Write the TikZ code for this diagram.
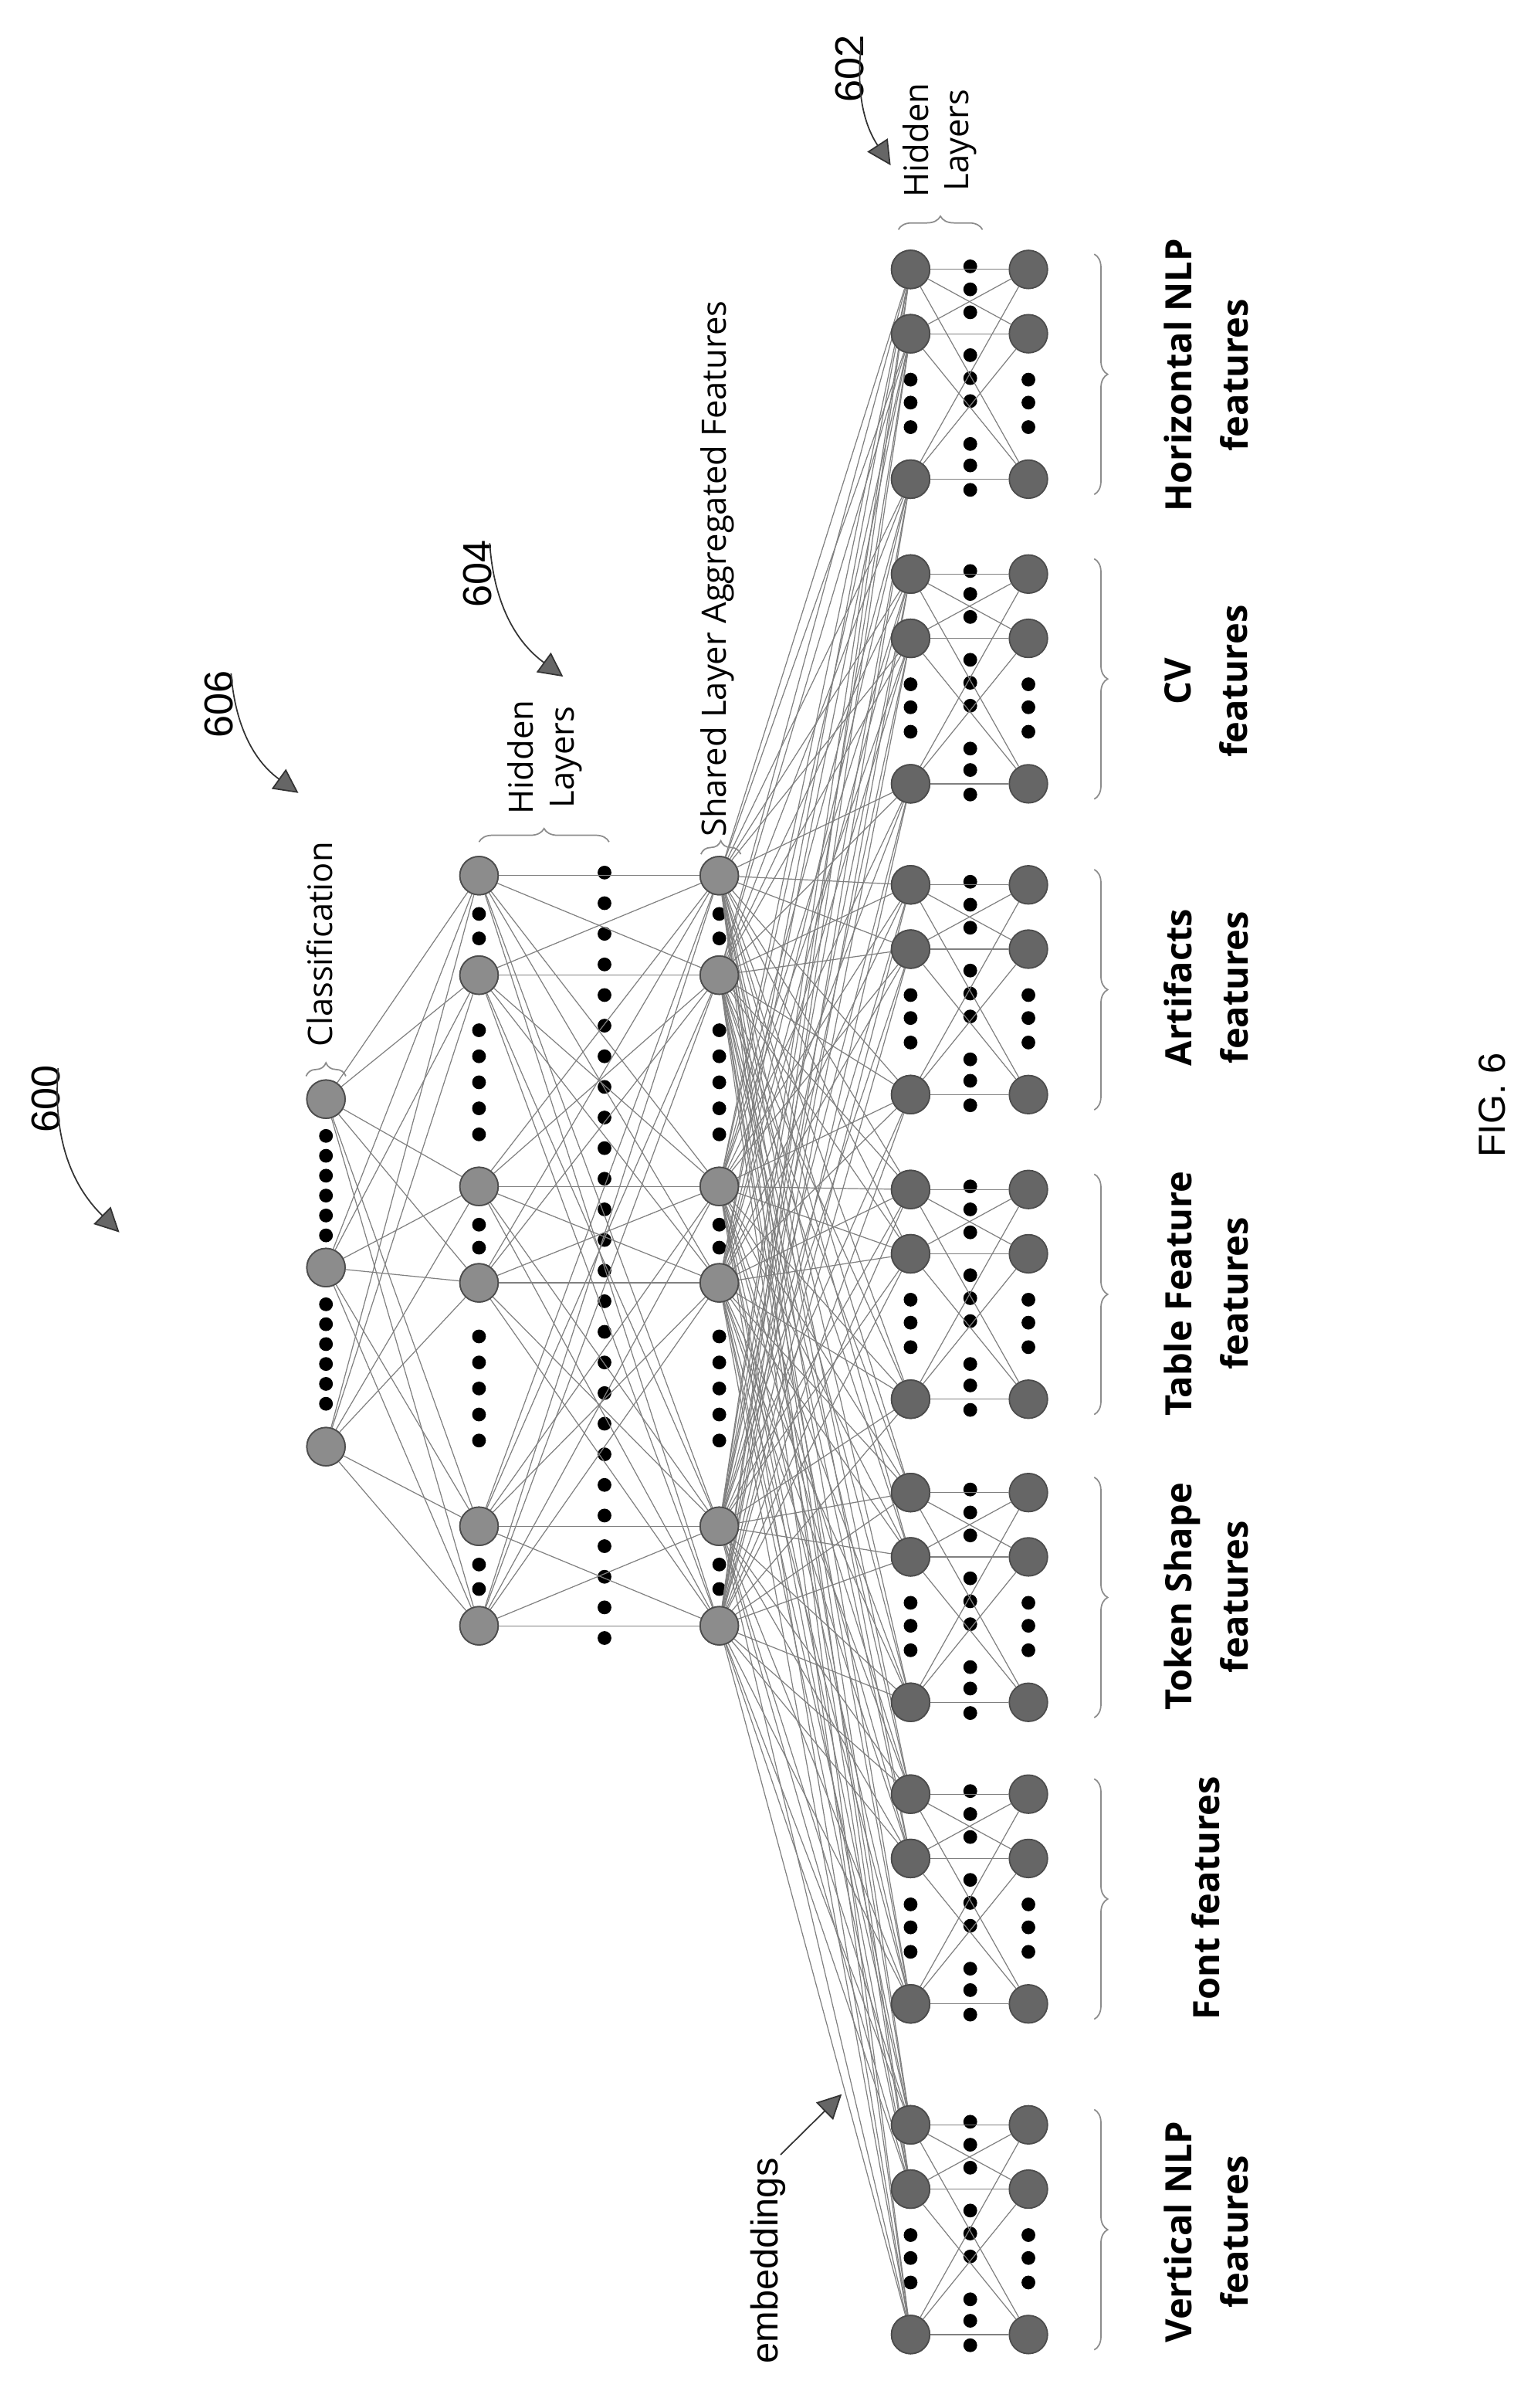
\documentclass[tikz,border=0pt]{standalone}
\usepackage{fontspec}
\setmainfont{Open Sans}
\newfontfamily\numfont{Liberation Sans}
\usetikzlibrary{arrows.meta,decorations.pathreplacing,calc}

\tikzset{
  neuron/.style={circle,draw=black!70,fill=black!45,line width=0.5pt,minimum size=25*0.02cm,inner sep=0pt},
  inneuron/.style={neuron,fill=black!60},
  dotnode/.style={circle,fill=black,minimum size=9*0.02cm,inner sep=0pt},
  wire/.style={black!50,line width=0.35pt},
  brc/.style={black!45,line width=0.5pt,decorate,decoration={brace,amplitude=5pt}},
  reflab/.style={font=\numfont\fontsize{15}{15}\selectfont,rotate=90},
  refarrow/.style={black!80,line width=0.5pt,-{Triangle[length=9pt,width=9pt,fill=black!60]}},
  lab/.style={font=\fontsize{13.5}{21}\selectfont\bfseries,rotate=90,align=center},
  toplab/.style={font=\fontsize{12.5}{15}\selectfont,rotate=90,align=center}
}

\begin{document}
\begin{tikzpicture}[x=0.02cm,y=-0.02cm]
  \useasboundingbox (0,0) rectangle (1000,1573);

  % classification layer
  \node[neuron] (c1) at (213,718) {};
  \node[neuron] (c2) at (213,828) {};
  \node[neuron] (c3) at (213,945) {};
  \foreach \y in {742,755,...,808} \node[dotnode] at (213,\y) {};
  \foreach \y in {852,865,...,920} \node[dotnode] at (213,\y) {};

  % hidden layers and shared layer
  \foreach \i/\y in {1/572,2/637,3/775,4/838,5/997,6/1062} {
    \node[neuron] (h\i) at (313,\y) {};
    \node[neuron] (s\i) at (470,\y) {};
  }
  \foreach \x in {313,470} {
    \foreach \y in {597,613,800,815,1022,1038} \node[dotnode] at (\x,\y) {};
    \foreach \y in {673,690,...,741,873,890,...,941} \node[dotnode] at (\x,\y) {};
  }
  \foreach \y in {570,590,...,1070} \node[dotnode] at (395,\y) {};

  % feature groups
  \foreach \g/\t in {1/176,2/375,3/578,4/777,5/975,6/1172,7/1388} {
    \node[inneuron] (g\g l1) at (595,\t) {};
    \node[inneuron] (g\g l2) at (595,\t+42) {};
    \node[inneuron] (g\g l3) at (595,\t+137) {};
    \node[inneuron] (g\g r1) at (672,\t) {};
    \node[inneuron] (g\g r2) at (672,\t+42) {};
    \node[inneuron] (g\g r3) at (672,\t+137) {};
    \foreach \o in {72,87,103} {
      \node[dotnode] at (595,\t+\o) {};
      \node[dotnode] at (672,\t+\o) {};
    }
    \foreach \o in {-2,13,28,56,71,86,114,128,144} \node[dotnode] at (634,\t+\o) {};
    \draw[brc] (715,\t-10) -- (715,\t+147);
    \foreach \i in {1,2,3} \foreach \j in {1,2,3} \draw[wire] (g\g l\i) -- (g\g r\j);
  }

  % connections
  \foreach \i in {1,2,3} \foreach \j in {1,...,6} \draw[wire] (c\i) -- (h\j);
  \foreach \i in {1,...,6} \foreach \j in {1,...,6} \draw[wire] (h\i) -- (s\j);
  \foreach \i in {1,...,6} \foreach \g in {1,...,7} \foreach \j in {1,2,3}
    \draw[wire] (s\i) -- (g\g l\j);

  % redraw nodes on top of the wires
  \foreach \n in {c1,c2,c3,h1,h2,h3,h4,h5,h6,s1,s2,s3,s4,s5,s6}
    \node[neuron] at (\n) {};
  \foreach \g in {1,...,7} \foreach \j in {1,2,3} \node[inneuron] at (g\g l\j) {};

  % group labels
  \node[lab] (lhnlp) at (788,245) {Horizontal NLP\\features};
  \node[lab] (lcv) at (788,445) {CV\\features};
  \node[lab] (lart) at (788,645) {Artifacts\\features};
  \node[lab] (ltab) at (788,845) {Table Feature\\features};
  \node[lab] (ltok) at (788,1043) {Token Shape\\features};
  \node[lab] (lfont) at (788,1240) {Font features};
  \node[lab] (lvnlp) at (788,1458) {Vertical NLP\\features};

  % layer labels and braces
  \draw[brc] (200,703) -- (226,703);
  \node[toplab,anchor=west] (lclass) at (209,690) {Classification};
  \draw[brc] (313,550) -- (398,550);
  \node[toplab,anchor=west] (lhid) at (356,538) {Hidden\\Layers};
  \draw[brc] (458,558) -- (484,558);
  \node[toplab,anchor=west] (lshared) at (469,553) {Shared Layer Aggregated Features};
  \draw[brc] (587,150) -- (642,150);
  \node[toplab,anchor=west] (lhid2) at (614,135) {Hidden\\Layers};

  % reference numerals
  \node[reflab] (n600) at (30,718) {600};
  \node[reflab] (n606) at (143,460) {606};
  \node[reflab] (n604) at (312,375) {604};
  \node[reflab] (n602) at (555,45) {602};
  \coordinate (t600) at (78,805);
  \coordinate (t606) at (195,518);
  \coordinate (t604) at (368,442);
  \coordinate (t602) at (582,108);
  \draw[refarrow] (n600.east) ++(8,8) to[bend right=25] (t600);
  \draw[refarrow] (n606.east) ++(8,8) to[bend right=25] (t606);
  \draw[refarrow] (n604.east) ++(8,8) to[bend right=25] (t604);
  \draw[refarrow] (n602.east) ++(8,10) to[bend right=20] (t602);

  \node[reflab,font=\numfont\fontsize{14}{14}\selectfont,anchor=west] (emb) at (502,1550) {embeddings};
  \coordinate (temb) at (550,1368);
  \draw[refarrow] (emb.east) ++(8,4) -- (temb);

  \node[reflab,font=\numfont\fontsize{14}{14}\selectfont] (fig) at (975,722) {FIG. 6};
\end{tikzpicture}
\end{document}
